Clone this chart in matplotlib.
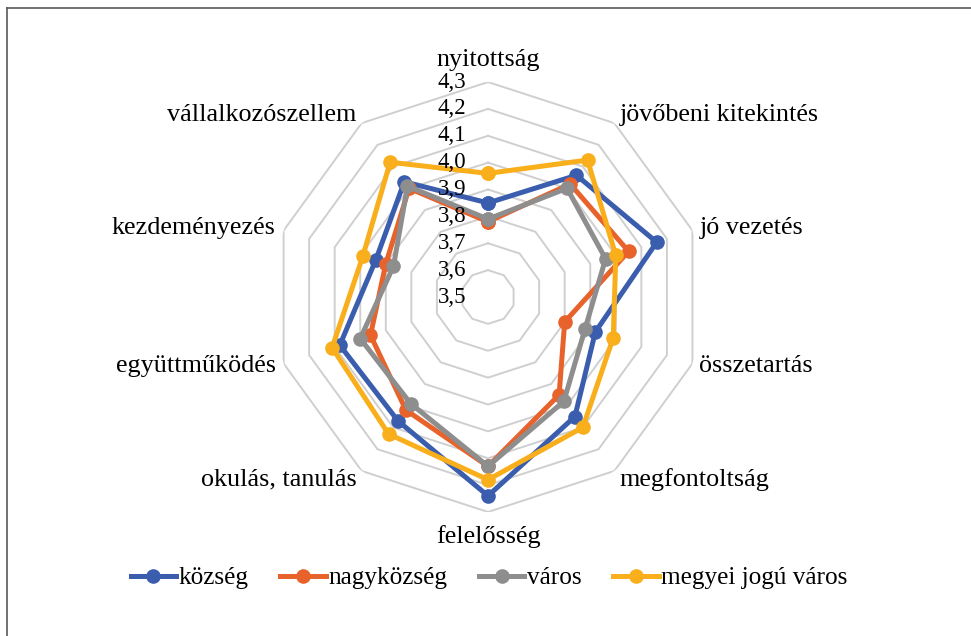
import numpy as np
import matplotlib.pyplot as plt
from matplotlib.lines import Line2D
from matplotlib.transforms import offset_copy

plt.rcParams['font.family'] = ['Liberation Serif', 'DejaVu Serif']

kategoriak = ['nyitottság', 'jövőbeni kitekintés', 'jó vezetés', 'összetartás',
              'megfontoltság', 'felelősség', 'okulás, tanulás', 'együttműködés',
              'kezdeményezés', 'vállalkozószellem']

kozseg = [3.85, 4.06, 4.16, 3.92, 4.05, 4.24, 4.07, 4.08, 3.94, 4.03]
nagykozseg = [3.78, 4.02, 4.05, 3.80, 3.95, 4.13, 4.02, 3.96, 3.90, 4.00]
varos = [3.79, 4.00, 3.96, 3.88, 3.98, 4.13, 3.99, 4.00, 3.87, 4.01]
megyei_jogu = [3.96, 4.13, 4.00, 3.99, 4.10, 4.18, 4.13, 4.11, 3.99, 4.12]

sorozatok = ['község', 'nagyközség', 'város', 'megyei jogú város']
szinek = ['#3A5DAE', '#E8622C', '#8E8E8E', '#F9AE1B']

szintek = [3.5, 3.6, 3.7, 3.8, 3.9, 4.0, 4.1, 4.2, 4.3]

fig = plt.figure(figsize=(9.71, 6.36), dpi=100)
ax = fig.add_axes([0.2812, 0.195, 0.4428, 0.676], projection='polar')
ax.set_theta_zero_location('N')
ax.set_theta_direction(-1)
ax.set_ylim(3.5, 4.3)
ax.grid(False)
ax.set_xticks([])
ax.set_yticks([])
ax.spines['polar'].set_visible(False)
ax.patch.set_alpha(0)

n = len(kategoriak)
szogek = np.linspace(0, 2 * np.pi, n, endpoint=False)
zart = np.concatenate([szogek, szogek[:1]])

# tizszogu racs
for sz in szintek[1:]:
    ax.plot(zart, [sz] * (n + 1), color='#CFCFCF', lw=1.4, zorder=1)

# tengely feliratok
for sz in szintek:
    tr = offset_copy(ax.transData, fig=fig, x=-22, y=0, units='dots')
    ax.text(0, sz, f'{sz:.1f}'.replace('.', ','), transform=tr,
            ha='right', va='center', fontsize=16.5, color='black', zorder=5)

for adat, nev, szin in zip([kozseg, nagykozseg, varos, megyei_jogu], sorozatok, szinek):
    ertek = adat + adat[:1]
    ax.plot(zart, ertek, color=szin, lw=3.6, marker='o', markersize=9.5, label=nev, zorder=3)

# kategoria feliratok
eltolas = [(0, 22), (5, 8), (7, 3), (7, -3), (5, -9), (0, -25), (-5, -9), (-8, -3), (-8, 3), (-5, 8)]
for i, (szog, nev) in enumerate(zip(szogek, kategoriak)):
    dx, dy = eltolas[i]
    ha = 'center' if dx == 0 else ('left' if dx > 0 else 'right')
    tr = offset_copy(ax.transData, fig=fig, x=dx, y=dy, units='dots')
    ax.text(szog, 4.3, nev, transform=tr, ha=ha, va='center', fontsize=18.8, color='black')

fig.legend(loc='center', bbox_to_anchor=(0.5036, 1 - 578 / 636), ncol=4, frameon=False,
           fontsize=18.2, handlelength=1.8, handletextpad=0.1, columnspacing=1.25)

# keret
fig.add_artist(Line2D([7 / 971, 1], [1 - 8 / 636, 1 - 8 / 636], transform=fig.transFigure, color='#595959', lw=1.2))
fig.add_artist(Line2D([7 / 971, 7 / 971], [0, 1 - 8 / 636], transform=fig.transFigure, color='#595959', lw=1.2))

fig.savefig('out.png', dpi=100)
